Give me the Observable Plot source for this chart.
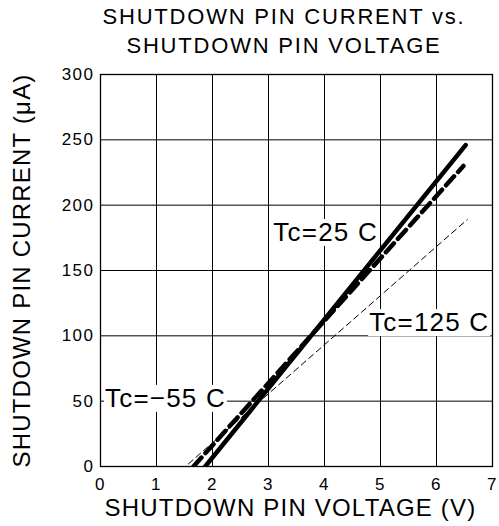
<!DOCTYPE html>
<html>
<head>
<meta charset="utf-8">
<script src="https://cdn.jsdelivr.net/npm/d3@7"></script>
<script src="https://cdn.jsdelivr.net/npm/@observablehq/plot@0.6"></script>
<style>
  html, body { margin: 0; padding: 0; background: white; overflow: hidden; }
  #title {
    font-family: "Liberation Sans", Arial, sans-serif;
    font-size: 22px; letter-spacing: 1.8px; line-height: 29px;
    width: 499px; box-sizing: border-box; padding-left: 69px; padding-top: 2px;
    height: 62px; text-align: center; color: black;
  }
  svg { display: block; }
  g[aria-label="x-axis tick label"] text, g[aria-label="y-axis tick label"] text { letter-spacing: 1.5px; }
  g[aria-label="text"] text { letter-spacing: 1.2px; }
</style>
</head>
<body>
<div id="title">SHUTDOWN PIN CURRENT vs.<br>SHUTDOWN PIN VOLTAGE</div>
<div id="chart"></div>
<script>
// ---- data ----
const titleLines = ["SHUTDOWN PIN CURRENT vs.", "SHUTDOWN PIN VOLTAGE"];
const xLabel = "SHUTDOWN PIN VOLTAGE (V)";
const yLabel = "SHUTDOWN PIN CURRENT (μA)";
const xTicks = [0, 1, 2, 3, 4, 5, 6, 7];
const yTicks = [0, 50, 100, 150, 200, 250, 300];

// Tc = 25 C (solid)
const v25 = [1.87, 6.52];
const i25 = [0, 246];
// Tc = -55 C (thick dashed)
const vM55 = [1.66, 6.48];
const iM55 = [0, 230];
// Tc = 125 C (thin dashed)
const v125 = [1.57, 6.55];
const i125 = [2, 189];

// curve labels (text and anchor in data units)
const labelText = ["Tc=25 C", "Tc=125 C", "Tc=\u221255 C"];
const labelV = [4.02, 5.87, 1.16];
const labelI = [179, 110, 52];

// ---- build ----
const toRows = (vs, is) => vs.map((v, k) => ({v, i: is[k]}));
const labels = labelText.map((t, k) => ({t, v: labelV[k], i: labelI[k]}));

const font = "Liberation Sans, Arial, sans-serif";

const chart = Plot.plot({
  width: 499,
  height: 464,
  marginTop: 12,
  marginBottom: 60,
  marginLeft: 100,
  marginRight: 7,
  style: {fontFamily: font, color: "black", background: "white"},
  x: {domain: [0, 7]},
  y: {domain: [0, 300]},
  marks: [
    Plot.gridX(xTicks, {stroke: "black", strokeOpacity: 1, strokeWidth: 1}),
    Plot.gridY(yTicks, {stroke: "black", strokeOpacity: 1, strokeWidth: 1}),
    Plot.frame({stroke: "black", strokeWidth: 1.3}),
    Plot.axisX(xTicks, {tickSize: 0, tickPadding: 11, fontSize: 17, label: null}),
    Plot.axisY(yTicks, {tickSize: 0, tickPadding: 6, fontSize: 17, label: null}),
    Plot.text([xLabel], {frameAnchor: "bottom", textAnchor: "middle", lineAnchor: "middle", dy: 42, dx: -6, fontSize: 24, text: d => d}),
    Plot.text([yLabel], {frameAnchor: "left", textAnchor: "middle", lineAnchor: "middle", rotate: -90, dx: -78, fontSize: 24, text: d => d}),
    Plot.line(toRows(v125, i125), {x: "v", y: "i", stroke: "black", strokeWidth: 1, strokeDasharray: "6,4", clip: true}),
    Plot.line(toRows(vM55, iM55), {x: "v", y: "i", stroke: "black", strokeWidth: 4.5, strokeDasharray: "12,6", clip: true}),
    Plot.line(toRows(v25, i25), {x: "v", y: "i", stroke: "black", strokeWidth: 4.5, clip: true}),
    Plot.text(labels, {x: "v", y: "i", text: "t", fontSize: 26, fill: "black"})
  ]
});

document.getElementById("chart").append(chart);

// white boxes behind the curve labels
chart.querySelectorAll("text").forEach(t => {
  if (!t.textContent.startsWith("Tc=")) return;
  const b = t.getBBox();
  const r = document.createElementNS("http://www.w3.org/2000/svg", "rect");
  r.setAttribute("x", b.x - 1);
  r.setAttribute("y", b.y + 2);
  r.setAttribute("width", b.width + 2);
  r.setAttribute("height", b.height - 3);
  r.setAttribute("fill", "white");
  const tr = t.getAttribute("transform");
  if (tr) r.setAttribute("transform", tr);
  t.parentNode.insertBefore(r, t);
});
</script>
</body>
</html>
